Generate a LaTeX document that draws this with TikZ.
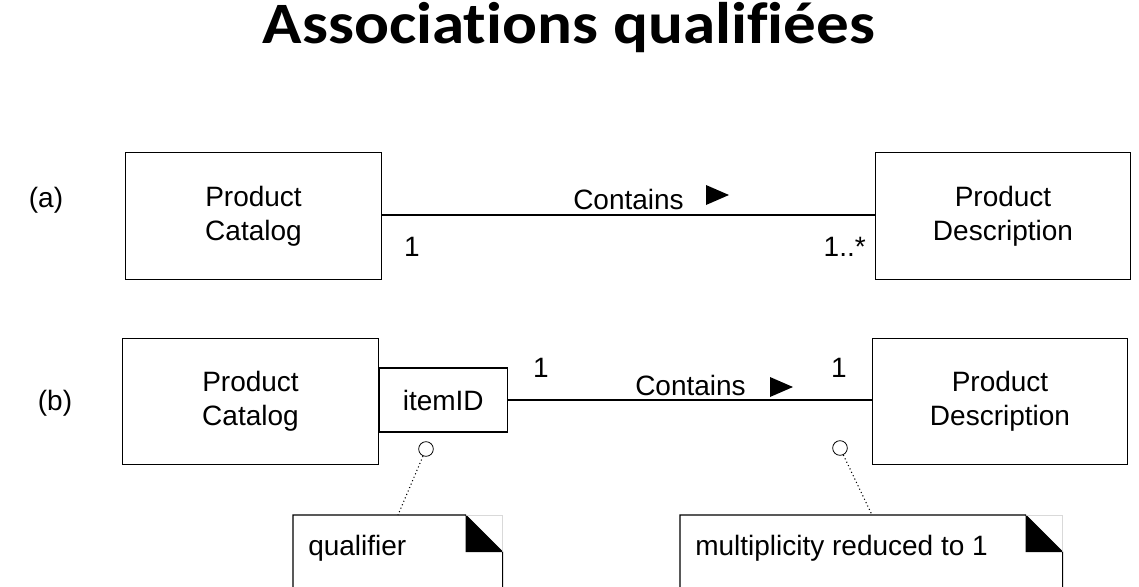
\documentclass[tikz,border=0pt]{standalone}
\usepackage{fontspec}
\setmainfont{Liberation Sans}
\newfontfamily\titlefont[Ligatures={NoCommon}, RawFeature={-liga;-clig;-calt}]{Carlito}
\usepackage{tikz}
\usetikzlibrary{positioning,calc}

\tikzset{
  classbox/.style={draw, line width=0.8pt, minimum width=191.5pt, minimum height=95pt, align=center, font=\fontsize{21}{25.5}\selectfont},
  qualbox/.style={draw, line width=0.8pt, minimum width=96pt, minimum height=48pt, font=\fontsize{21}{25}\selectfont},
  lbl/.style={font=\fontsize{21}{25}\selectfont, inner sep=0pt},
  notebox/.style={minimum width=156.75pt, minimum height=75pt, inner sep=0pt, anchor=north west},
  anchorball/.style={circle, draw, line width=0.6pt, fill=white, minimum size=11pt, inner sep=0pt}
}

\begin{document}
\begin{tikzpicture}[x=0.75pt, y=-0.75pt]
  \clip (0,0) rectangle (1139,586);
  \fill[white] (0,0) rectangle (1139,586);

  % Title
  \node[anchor=base, inner sep=0pt, font=\titlefont\bfseries\fontsize{44}{50}\selectfont] (title) at (569,43)
    {\scalebox{1.11}[1]{Associat\kern0pt ions qualif\kern0pt iées}};

  % (a) plain association
  \node[lbl] (la) at (46,200) {(a)};
  \node[classbox] (pca) at (253.5,216) {Product\\Catalog};
  \node[classbox] (pda) at (1003,216) {Product\\Description};
  \draw[line width=0.8pt] (pca.east |- 0,215) -- (pda.west |- 0,215);
  \node[lbl, anchor=base] (ca) at (628.5,209) {Contains};
  \fill (706,185) -- (706,205) -- (729,195) -- cycle;
  \node[lbl, anchor=base] (ma1) at (412,256) {1};
  \node[lbl, anchor=base east] (ma2) at (866,256) {1..*};

  % (b) qualified association
  \node[lbl] (lb) at (55,403) {(b)};
  \node[classbox] (pcb) at (250.5,401.5) {Product\\Catalog};
  \node[qualbox, anchor=west] (qid) at (pcb.east |- 0,400) {itemID};
  \node[classbox] (pdb) at (1000,401.5) {Product\\Description};
  \draw[line width=0.8pt] (qid.east) -- (qid.east -| pdb.west);
  \node[lbl, anchor=base] (mb1) at (541,377) {1};
  \node[lbl, anchor=base] (cb) at (690.5,395) {Contains};
  \fill (770,377) -- (770,397) -- (793,387) -- cycle;
  \node[lbl, anchor=base] (mb2) at (839,377) {1};

  % Notes
  \node[notebox] (nq) at (293,515) {};
  \node[notebox, minimum width=286.5pt] (nm) at (680,515) {};
  \foreach \n in {nq,nm} {
    \draw[line width=0.8pt] (\n.south west) -- (\n.north west) -- ([xshift=-27.75pt]\n.north east)
      -- ([yshift=-27.75pt]\n.north east) -- (\n.south east);
    \draw[gray!30, line width=0.5pt] ([xshift=-27.75pt]\n.north east) -- (\n.north east) -- ([yshift=-27.75pt]\n.north east);
    \fill ([xshift=-27.75pt]\n.north east) -- ([xshift=-27.75pt, yshift=-27.75pt]\n.north east) -- ([yshift=-27.75pt]\n.north east) -- cycle;
  }
  \node[lbl, anchor=base west] (tq) at (308,555) {qualifier};
  \node[lbl, anchor=base west] (tm) at (695,555) {multiplicity reduced to 1};

  % Note anchors
  \coordinate (nqtop) at (398,515);
  \coordinate (nmtop) at (872,515);
  \node[anchorball] (bq) at (426,449) {};
  \node[anchorball] (bm) at (840,448) {};
  \draw[line width=0.8pt, dotted] (bq) -- (nqtop);
  \draw[line width=0.8pt, dotted] (bm) -- (nmtop);
\end{tikzpicture}
\end{document}
